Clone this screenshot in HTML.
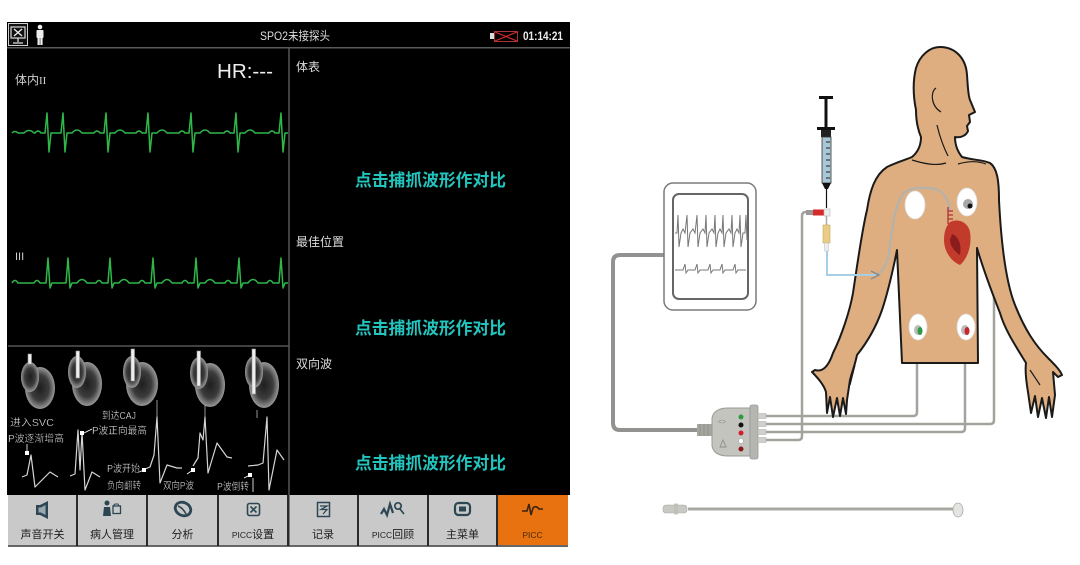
<!DOCTYPE html>
<html><head><meta charset="utf-8">
<style>
html,body{margin:0;padding:0;background:#fff;}
body{width:1080px;height:565px;overflow:hidden;}
svg{display:block;}
text{font-family:"Liberation Sans","Noto Sans CJK SC",sans-serif;}
</style></head>
<body>
<svg width="1080" height="565" viewBox="0 0 1080 565" xmlns="http://www.w3.org/2000/svg">
<defs>
<radialGradient id="hg" cx="50%" cy="50%" r="50%">
<stop offset="0" stop-color="#1e1e1e"/><stop offset="0.6" stop-color="#3c3c3c"/><stop offset="1" stop-color="#9a9a9a"/>
</radialGradient>
</defs>
<rect width="1080" height="565" fill="#fff"/>

<!-- ===== DEVICE SCREEN ===== -->
<rect x="7" y="22" width="563" height="473" fill="#000"/>
<rect x="7" y="47" width="563" height="1.5" fill="#5a5a5a"/>
<line x1="289" y1="48" x2="289" y2="495" stroke="#555" stroke-width="1.5"/>
<line x1="8" y1="346" x2="289" y2="346" stroke="#555" stroke-width="1.5"/>

<!-- top bar -->
<rect x="8.5" y="23.5" width="19" height="22" fill="#111" stroke="#cfcfcf" stroke-width="1"/>
<rect x="11" y="27" width="14" height="11" fill="none" stroke="#ddd" stroke-width="1.2"/>
<path d="M14,29 L22,36 M22,29 L14,36" stroke="#eee" stroke-width="1.3"/>
<path d="M18,38 V42 M13,43 H23" stroke="#ddd" stroke-width="1.3"/>
<circle cx="40" cy="27" r="2.3" fill="#eee"/>
<rect x="36.5" y="30" width="7" height="8" rx="1" fill="#eee"/>
<rect x="37.5" y="37" width="2.3" height="8" fill="#eee"/>
<rect x="40.3" y="37" width="2.3" height="8" fill="#eee"/>
<text x="260" y="40" font-size="12" fill="#ddd" textLength="70" lengthAdjust="spacingAndGlyphs">SPO2未接探头</text>
<rect x="490" y="33" width="4" height="6" fill="#ddd"/>
<rect x="494.5" y="31.5" width="23" height="10" fill="#000" stroke="#aa3333" stroke-width="1"/>
<path d="M495,32 L517,41 M517,32 L495,41" stroke="#d02a2a" stroke-width="1.2"/>
<text x="523" y="40" font-size="12" font-weight="bold" fill="#eee" textLength="40" lengthAdjust="spacingAndGlyphs">01:14:21</text>

<!-- left ECG panel -->
<text x="15" y="84" font-size="12" fill="#cfcfcf">体内<tspan font-family="Liberation Serif,serif" font-size="11">II</tspan></text>
<text x="217" y="78" font-size="20" fill="#eee" textLength="56" lengthAdjust="spacingAndGlyphs">HR:---</text>
<path fill="none" stroke="#2fb84a" stroke-width="1.5" stroke-linejoin="round" d="M12,133 q3,-3 6,0 h6 q5,-5 10,0 L35,133 q3,-4 6,0 h4 l2,-20 l2,39 l2,-19 h5 L61,133 l2,-20 l2,39 l2,-19 h5 q5,-6 10,0 L94,133 q3,-4 6,0 h4 l2,-20 l2,39 l2,-19 h5 q5,-6 10,0 L136,133 q3,-4 6,0 h4 l2,-20 l2,39 l2,-19 h5 q5,-6 10,0 L179,133 q3,-4 6,0 h4 l2,-20 l2,39 l2,-19 h5 q5,-6 10,0 L224,133 q3,-4 6,0 h4 l2,-20 l2,39 l2,-19 h5 q5,-6 10,0 L269,133 q3,-4 6,0 h4 l2,-20 l2,39 l2,-19 h3"/>
<text x="15" y="260" font-size="11" font-family="Liberation Serif,serif" fill="#cfcfcf">III</text>
<path fill="none" stroke="#2fb84a" stroke-width="1.5" stroke-linejoin="round" d="M12,283 q3,-5 6,0 h10 L34,283 q3,-5 6,0 h6 l2,-25 l2,30 l2,-5 h2 L64,283 h2 l2,-25 l2,30 l2,-5 h5 q5,-7 10,0 L96,283 q3,-5 6,0 h6 l2,-25 l2,30 l2,-5 h5 q5,-7 10,0 L139,283 q3,-5 6,0 h6 l2,-25 l2,30 l2,-5 h5 q5,-7 10,0 L182,283 q3,-5 6,0 h6 l2,-25 l2,30 l2,-5 h5 q5,-7 10,0 L225,283 q3,-5 6,0 h6 l2,-25 l2,30 l2,-5 h5 q5,-7 10,0 L267,283 q3,-5 6,0 h6 l2,-25 l2,30 l2,-5 h3"/>

<!-- left bottom illustration -->
<g>
<ellipse cx="40" cy="388" rx="15" ry="21" fill="url(#hg)"/>
<ellipse cx="30" cy="377" rx="9" ry="15" fill="url(#hg)"/>
<ellipse cx="87" cy="384" rx="15" ry="22" fill="url(#hg)"/>
<ellipse cx="77" cy="372" rx="9" ry="16" fill="url(#hg)"/>
<ellipse cx="142" cy="384" rx="16" ry="22" fill="url(#hg)"/>
<ellipse cx="132" cy="372" rx="9" ry="16" fill="url(#hg)"/>
<ellipse cx="210" cy="385" rx="15" ry="22" fill="url(#hg)"/>
<ellipse cx="199" cy="373" rx="9" ry="16" fill="url(#hg)"/>
<ellipse cx="264" cy="385" rx="15" ry="23" fill="url(#hg)"/>
<ellipse cx="254" cy="372" rx="9" ry="16" fill="url(#hg)"/>
<g fill="#eeeeee" stroke="#999" stroke-width="0.6">
<rect x="28" y="354" width="3.5" height="10"/>
<rect x="76" y="351" width="3.5" height="27"/>
<rect x="131" y="349" width="3.5" height="32"/>
<rect x="197" y="351" width="3.5" height="35"/>
<rect x="252" y="349" width="3.5" height="45"/>
</g>
<g stroke="#bbb" stroke-width="0.8">
<line x1="157" y1="400" x2="157" y2="418"/>
<line x1="205" y1="405" x2="205" y2="418"/>
<line x1="257" y1="410" x2="257" y2="418"/>
</g>
<g fill="none" stroke="#d5d5d5" stroke-width="1.2" stroke-linejoin="round">
<path d="M22,477 L27,475 L31,455 L35,487 L42,480 L50,472 L58,477"/>
<path d="M70,476 L75,474 L78,430 L80,470 L82,432 L85,490 L92,472 L100,477"/>
<path d="M145,469 L150,467 L154,455 L157,417 L160,483 L167,465 L177,468 L182,468"/>
<path d="M193,466 L198,458 L200,433 L203,440 L205,417 L208,473 L217,443 L227,457 L232,458"/>
<path d="M248,466 L258,465 L263,463 L267,417 L269,490 L277,450 L284,460"/>
</g>
<g fill="#fff">
<rect x="25" y="451" width="4" height="4"/>
<rect x="80" y="431" width="4" height="4"/>
<rect x="142" y="468" width="4" height="4"/>
<rect x="191" y="468" width="4" height="4"/>
<rect x="248" y="473" width="4" height="4"/>
</g>
<g stroke="#fff" stroke-width="0.8">
<line x1="27" y1="444" x2="27" y2="452"/>
<line x1="84" y1="433" x2="92" y2="429"/>
<line x1="139" y1="472" x2="144" y2="470"/>
<line x1="187" y1="474" x2="193" y2="470"/>
<line x1="244" y1="478" x2="250" y2="475"/>
</g>
<g font-size="10" fill="#fff" stroke="#000" stroke-width="0.3">
<text x="10" y="426" textLength="44" lengthAdjust="spacingAndGlyphs">进入SVC</text>
<text x="8" y="442" textLength="56" lengthAdjust="spacingAndGlyphs">P波逐渐增高</text>
<text x="102" y="419" textLength="34" lengthAdjust="spacingAndGlyphs">到达CAJ</text>
<text x="92" y="434" textLength="55" lengthAdjust="spacingAndGlyphs">P波正向最高</text>
<text x="107" y="472" textLength="33" lengthAdjust="spacingAndGlyphs">P波开始</text>
<text x="107" y="489" textLength="34" lengthAdjust="spacingAndGlyphs">负向翻转</text>
<text x="163" y="489" textLength="31" lengthAdjust="spacingAndGlyphs">双向P波</text>
<text x="217" y="490" textLength="32" lengthAdjust="spacingAndGlyphs">P波倒转</text>
</g>
<line x1="253" y1="478" x2="253" y2="492" stroke="#ccc" stroke-width="1"/>
</g>

<!-- right panel texts -->
<text x="296" y="71" font-size="12" fill="#ddd">体表</text>
<text x="296" y="246" font-size="12" fill="#ddd">最佳位置</text>
<text x="296" y="368" font-size="12" fill="#ddd">双向波</text>
<g font-size="17" font-weight="bold" fill="#22c4bd" font-family="Liberation Sans,Noto Sans CJK SC,sans-serif">
<text x="355" y="186" textLength="151" lengthAdjust="spacingAndGlyphs">点击捕抓波形作对比</text>
<text x="355" y="334" textLength="151" lengthAdjust="spacingAndGlyphs">点击捕抓波形作对比</text>
<text x="355" y="469" textLength="151" lengthAdjust="spacingAndGlyphs">点击捕抓波形作对比</text>
</g>

<!-- nav bar -->
<rect x="8" y="495" width="560" height="51" fill="#c9c9c9"/>
<rect x="497" y="495" width="71" height="51" fill="#e8720f"/>
<rect x="8" y="545" width="560" height="2" fill="#666"/>
<g fill="#2a2a2a">
<rect x="76" y="495" width="2" height="51"/>
<rect x="146" y="495" width="2" height="51"/>
<rect x="217" y="495" width="2" height="51"/>
<rect x="287" y="495" width="2.5" height="51"/>
<rect x="357" y="495" width="2" height="51"/>
<rect x="427" y="495" width="2" height="51"/>
<rect x="496" y="495" width="2" height="51"/>
</g>
<!-- nav icons -->
<g fill="#2c4753" stroke="#2c4753">
<path d="M36,505 H40 L48,501 V519 L40,515 H36 Z" stroke="none"/>
<path d="M38.5,507.5 H41 L45.5,505 V515 L41,512.5 H38.5 Z" fill="#9aa8ad" stroke="none"/>
<circle cx="107" cy="503" r="2.5" stroke="none"/>
<path d="M103,516 L104,507 H110 L111,516 Z" stroke="none"/>
<rect x="113" y="506" width="7.5" height="7.5" fill="none" stroke-width="1.3"/>
<path d="M113,506 L115,504 H118 L119,506" fill="none" stroke-width="1"/>
<ellipse cx="183" cy="509" rx="8" ry="6.5" fill="none" stroke-width="2.8" transform="rotate(25 183 509)"/>
<path d="M178,506 Q183,508 186,514" fill="none" stroke-width="1.6"/>
<rect x="247.5" y="503.5" width="12" height="12" rx="2" fill="none" stroke-width="1.6"/>
<path d="M250.5,506.5 L256.5,512.5 M256.5,506.5 L250.5,512.5" stroke-width="1.6"/>
<rect x="317.5" y="502.5" width="12" height="14" fill="none" stroke-width="1.5"/>
<path d="M320,506 H327 L321,509.5 H327 L323,514" fill="none" stroke-width="1.3"/>
<path d="M381,514 L384,509 L387,515 L390,504 L393,513" fill="none" stroke-width="2.2"/>
<circle cx="398" cy="506" r="3.2" fill="none" stroke-width="1.7"/>
<path d="M400,509 L404,514" stroke-width="1.7"/>
<rect x="455" y="503" width="15" height="12" rx="3.5" fill="none" stroke-width="2.2"/>
<rect x="459" y="506.5" width="7" height="5" stroke="none"/>
</g>
<path d="M522,511 H527 L529,504 L531,515 L533,508 Q536,505 539,509 H543" fill="none" stroke="#3a2410" stroke-width="1.6"/>
<g font-size="11" fill="#1e1e1e" text-anchor="middle">
<text x="42.5" y="538">声音开关</text>
<text x="112" y="538">病人管理</text>
<text x="182.5" y="538">分析</text>
<text x="253" y="538"><tspan font-size="8.5">PICC</tspan>设置</text>
<text x="323" y="538">记录</text>
<text x="393" y="538"><tspan font-size="8.5">PICC</tspan>回顾</text>
<text x="462.5" y="538">主菜单</text>
<text x="532.5" y="538" font-size="8.5" fill="#4a2a0a">PICC</text>
</g>

<!-- ===== RIGHT ILLUSTRATION ===== -->
<path d="M664,255 H620 Q613,255 613,262 V423 Q613,430 620,430 H700" fill="none" stroke="#929290" stroke-width="4"/>
<rect x="664" y="183" width="92" height="127" rx="9" fill="#fff" stroke="#7a7a7a" stroke-width="1.5"/>
<rect x="673" y="194" width="75" height="105" rx="6" fill="#fff" stroke="#666" stroke-width="2"/>
<path fill="none" stroke="#777" stroke-width="1" d="M675,233 L677,233 L678,215 L679,247 L681,233 L683,229 L685,233 L687,215 L688,247 L690,233 L693,229 L695,233 L697,215 L698,247 L700,233 L703,229 L705,233 L706,215 L707,247 L709,233 L712,229 L714,233 L715,215 L716,247 L718,233 L720,229 L722,233 L723,215 L724,247 L726,233 L729,229 L731,233 L732,215 L733,247 L735,233 L737,229 L739,233 L740,215 L741,247 L743,233 L745,233 L746,215 L747,240"/>
<path fill="none" stroke="#777" stroke-width="1" d="M675,270 H683 L685,264 L686,273 L688,270 H695 L697,264 L698,273 L700,270 H708 L710,264 L711,273 L713,270 H720 L722,264 L723,273 L725,270 H733 L735,264 L736,273 L738,270 H746"/>

<g fill="none" stroke="#a3a39d" stroke-width="2.5">
<path d="M917,335 V412 Q917,416 913,416 H762"/>
<path d="M973,203 H990 Q994,203 994,207 V420 Q994,424 990,424 H762"/>
<path d="M965,335 V428 Q965,432 961,432 H762"/>
<path d="M806,212 Q802,212 802,216 V436 Q802,440 798,440 H762"/>
</g>

<path fill="#dfae80" stroke="#1a1a1a" stroke-width="2" stroke-linejoin="round" d="M940,47 C955,47 966,58 967,75 C968,88 968,95 970,100 L975,112 L969,115 L970,122 L967,126 L968,131 C966,136 960,138 955,137 C955,145 958,152 962,157 C972,160 984,160 990,163 C997,168 999,180 999,200 C1001,240 1005,280 1015,305 C1025,330 1035,345 1048,358 C1055,365 1060,370 1062,375 L1058,377 L1053,372 L1055,395 L1052,417 L1049,397 L1046,418 L1042,398 L1038,417 L1035,396 L1031,413 L1028,392 C1026,380 1025,370 1026,363 C1015,345 1005,330 1000,313 C993,295 985,275 977,248 L978,363 L902,363 L897,250 C892,275 887,295 882,310 C875,330 865,345 857,355 C855,365 852,372 850,380 L847,400 L846,414 L843,398 L840,416 L837,398 L833,417 L830,397 L827,413 L826,392 C824,385 818,378 812,372 L815,370 C822,372 828,368 833,353 C842,335 850,310 853,293 C858,260 862,230 867,210 C870,190 875,175 887,167 C897,162 905,160 912,157 C918,152 921,146 921,137 C918,130 916,120 916,110 C913,95 913,80 916,68 C920,55 930,47 940,47 Z"/>
<g fill="none" stroke="#1a1a1a" stroke-width="1.2">
<path d="M936,88 C930,92 931,106 941,112"/>
<path d="M937,125 C940,138 944,148 948,156"/>
<path d="M912,160 C925,164 936,166 946,163"/>
<path d="M958,164 C968,161 978,161 986,164"/>
<path d="M850,385 L855,365"/>
<path d="M1030,370 L1040,385"/>
</g>

<path d="M827,250 V275 H876" fill="none" stroke="#a6cfe6" stroke-width="2"/>
<path d="M876,275 C884,272 888,262 890,245 C893,222 896,200 905,192 C915,186 932,187 940,191 C946,195 949,202 950,212" fill="none" stroke="#b3b3ad" stroke-width="2.2"/>
<path d="M871,271 L879,275 L871,279" fill="none" stroke="#888" stroke-width="1.3"/>

<g stroke="#b03030" stroke-width="1.3" fill="none">
<path d="M948,207 V224 M948,211 H953 M948,215 H953 M948,219 H953"/>
</g>
<path d="M950,222 C958,218 968,222 970,232 C972,245 968,258 960,265 C952,262 944,252 944,240 C944,232 946,226 950,222 Z" fill="#c23a2c"/>
<path d="M952,234 C958,236 962,244 960,255 C955,252 950,246 950,240 Z" fill="#8a1c1c"/>

<ellipse cx="915" cy="205" rx="10" ry="14" fill="#fff" stroke="#ddd" stroke-width="0.8"/>
<ellipse cx="967" cy="202" rx="10" ry="14" fill="#fff" stroke="#ddd" stroke-width="0.8"/>
<circle cx="968" cy="204" r="5" fill="#a8a8a8"/>
<circle cx="970" cy="206" r="2.5" fill="#111"/>
<ellipse cx="918" cy="327" rx="9" ry="13" fill="#fff" stroke="#ddd" stroke-width="0.8"/>
<ellipse cx="918" cy="330" rx="4" ry="5" fill="#bbb"/>
<ellipse cx="920" cy="331" rx="2.5" ry="4" fill="#2f9a44"/>
<ellipse cx="966" cy="327" rx="9" ry="13" fill="#fff" stroke="#ddd" stroke-width="0.8"/>
<ellipse cx="965" cy="330" rx="4" ry="5" fill="#bbb"/>
<ellipse cx="967" cy="331" rx="2.5" ry="4" fill="#c7262e"/>

<rect x="819" y="96" width="14" height="3" fill="#111"/>
<rect x="824.5" y="99" width="3" height="28" fill="#111"/>
<rect x="817" y="127" width="18" height="3" fill="#111"/>
<rect x="821" y="130" width="10" height="7" fill="#222"/>
<rect x="822" y="137" width="9" height="46" fill="#a9c8d6" stroke="#333" stroke-width="0.8"/>
<g stroke="#222" stroke-width="1">
<path d="M826,142 H830 M826,148 H830 M826,154 H830 M826,160 H830 M826,166 H830 M826,172 H830 M826,178 H830"/>
</g>
<path d="M822,183 L831,183 L828,189 L825,189 Z" fill="#111"/>
<line x1="826.5" y1="189" x2="826.5" y2="208" stroke="#111" stroke-width="1.2"/>
<rect x="806" y="210" width="7" height="5" fill="#999"/>
<rect x="813" y="209.5" width="11" height="6" fill="#d42a2a"/>
<rect x="824" y="209" width="6" height="7" fill="#eee" stroke="#bbb" stroke-width="0.6"/>
<line x1="826.5" y1="216" x2="826.5" y2="225" stroke="#aaa" stroke-width="1.5"/>
<rect x="823" y="225" width="7" height="18" fill="#e9cd85" stroke="#c9a860" stroke-width="0.6"/>
<rect x="824.5" y="243" width="4" height="8" fill="#eee" stroke="#bbb" stroke-width="0.5"/>

<rect x="697" y="424" width="16" height="12" fill="#a6a6a1"/>
<path d="M700,424 V436 M704,424 V436 M708,424 V436" stroke="#8a8a86" stroke-width="0.8"/>
<path d="M712,418 Q714,408 728,408 L750,408 L750,456 L728,456 Q714,456 712,446 Z" fill="#c4c4bf" stroke="#9a9a96" stroke-width="1"/>
<rect x="750" y="405" width="8" height="54" rx="2" fill="#b6b6b1" stroke="#999" stroke-width="0.8"/>
<g fill="#d0d0cc" stroke="#aaa" stroke-width="0.5">
<rect x="758" y="413.5" width="8" height="5"/>
<rect x="758" y="421.5" width="8" height="5"/>
<rect x="758" y="429.5" width="8" height="5"/>
<rect x="758" y="437.5" width="8" height="5"/>
</g>
<text x="718" y="424" font-size="7" fill="#8e8e8a">&lt;&gt;</text>
<path d="M720,447 L723,440 L726,447 Z" fill="none" stroke="#8e8e8a" stroke-width="0.9"/>
<circle cx="741" cy="417" r="2.5" fill="#2a9d3a"/>
<circle cx="741" cy="425" r="2.5" fill="#111"/>
<circle cx="741" cy="433" r="2.5" fill="#d02030"/>
<circle cx="741" cy="441" r="2.5" fill="#fff" stroke="#999" stroke-width="0.5"/>
<circle cx="741" cy="449" r="2.5" fill="#8b1a1a"/>

<line x1="688" y1="509" x2="955" y2="509" stroke="#a8a8a2" stroke-width="3"/>
<rect x="663" y="505" width="24" height="8" rx="3" fill="#c9c9c3" stroke="#aaa" stroke-width="0.6"/>
<rect x="674" y="503.5" width="4" height="11" rx="1" fill="#c0c0ba"/>
<ellipse cx="958" cy="510" rx="5" ry="7" fill="#e4e4e0" stroke="#aaa" stroke-width="0.8"/>
</svg>
</body></html>
